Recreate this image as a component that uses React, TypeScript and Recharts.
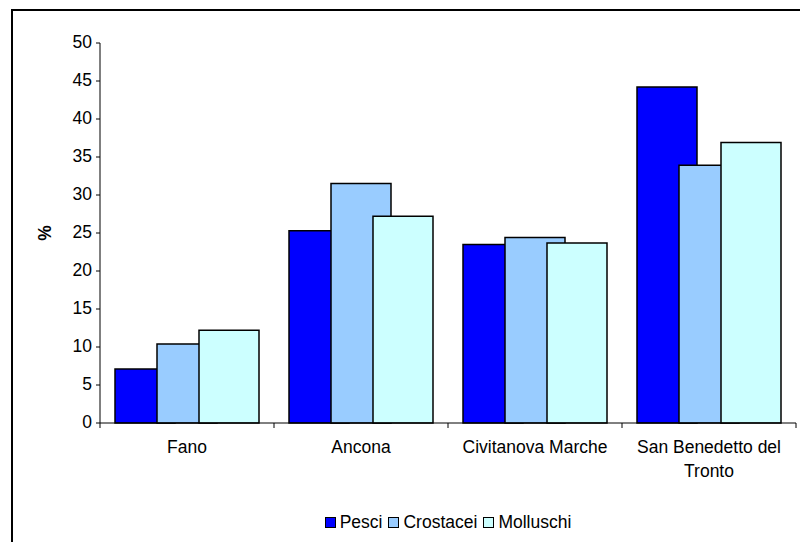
import React from 'react';
import { BarChart, Bar, XAxis, YAxis, Legend, Text } from 'recharts';

const categories = ['Fano', 'Ancona', 'Civitanova Marche', 'San Benedetto del Tronto'];
const pesci = [7.1, 25.3, 23.5, 44.2];
const crostacei = [10.4, 31.5, 24.4, 33.9];
const molluschi = [12.2, 27.2, 23.7, 36.9];
const yTicks = [0, 5, 10, 15, 20, 25, 30, 35, 40, 45, 50];

const seriesNames = ['Pesci', 'Crostacei', 'Molluschi'];
const seriesColors = ['#0000FF', '#99CCFF', '#CCFFFF'];

const data = categories.map((c, i) => ({
  name: c,
  Pesci: pesci[i],
  Crostacei: crostacei[i],
  Molluschi: molluschi[i],
}));

const FONT = '"Liberation Sans", Arial, sans-serif';
const FS = 17.5;

const CatTick = (props: any) => {
  const { x, y, payload, index, visibleTicksCount } = props;
  const half = typeof payload.offset === 'number' ? payload.offset : 0;
  return (
    <g>
      <line x1={x - half} x2={x - half} y1={y} y2={y + 5} stroke="#000" strokeWidth={1} />
      {index === visibleTicksCount - 1 && (
        <line x1={x + half} x2={x + half} y1={y} y2={y + 5} stroke="#000" strokeWidth={1} />
      )}
      <Text
        x={x}
        y={y + 18}
        width={165}
        textAnchor="middle"
        verticalAnchor="start"
        lineHeight={24}
        fontSize={FS}
        fontFamily={FONT}
        style={{ fontSize: FS, fontFamily: FONT }}
        fill="#000"
      >
        {payload.value}
      </Text>
    </g>
  );
};

const LegendContent = () => (
  <div
    style={{
      display: 'flex',
      justifyContent: 'center',
      alignItems: 'center',
      fontFamily: FONT,
      fontSize: FS,
      color: '#000',
      whiteSpace: 'nowrap',
    }}
  >
    {seriesNames.map((n, i) => (
      <span key={n} style={{ display: 'inline-flex', alignItems: 'center', marginRight: i < seriesNames.length - 1 ? 6 : 0 }}>
        <span
          style={{
            display: 'inline-block',
            width: 9,
            height: 9,
            background: seriesColors[i],
            border: '1px solid #000',
            marginRight: 4,
          }}
        />
        {n}
      </span>
    ))}
  </div>
);

export default function App() {
  return (
    <div style={{ position: 'absolute', left: 0, top: 0, width: 800, height: 542, overflow: 'hidden', background: '#fff' }}>
      <div
        style={{
          position: 'absolute',
          left: 11,
          top: 9,
          width: 820,
          height: 600,
          border: '2px solid #000',
          boxSizing: 'border-box',
        }}
      />
      <div style={{ position: 'absolute', left: 0, top: 0 }}>
        <BarChart
          width={800}
          height={542}
          data={data}
          margin={{ top: 43, right: 4, left: 0, bottom: 0 }}
          barSize={60}
          barGap={-18}
        >
          <XAxis
            dataKey="name"
            height={119}
            interval={0}
            tickSize={0}
            tickMargin={0}
            tickLine={false}
            axisLine={{ stroke: '#000' }}
            tick={<CatTick />}
          />
          <YAxis
            width={100}
            domain={[0, 50]}
            ticks={yTicks}
            interval={0}
            tickSize={4}
            tickMargin={4}
            axisLine={{ stroke: '#000' }}
            tickLine={{ stroke: '#000' }}
            tick={{ fill: '#000', fontSize: FS, fontFamily: FONT, dy: -1 }}
            label={{ value: '%', angle: -90, position: 'center', dx: -5, fill: '#000', fontSize: FS, fontFamily: FONT, fontWeight: 'bold' }}
          />
          <Legend
            layout="horizontal"
            verticalAlign="middle"
            align="center"
            wrapperStyle={{ top: 512, left: 100, width: 696 }}
            content={<LegendContent />}
          />
          {seriesNames.map((n, i) => (
            <Bar key={n} dataKey={n} fill={seriesColors[i]} stroke="#000" strokeWidth={1.5} isAnimationActive={false} />
          ))}
        </BarChart>
      </div>
    </div>
  );
}
